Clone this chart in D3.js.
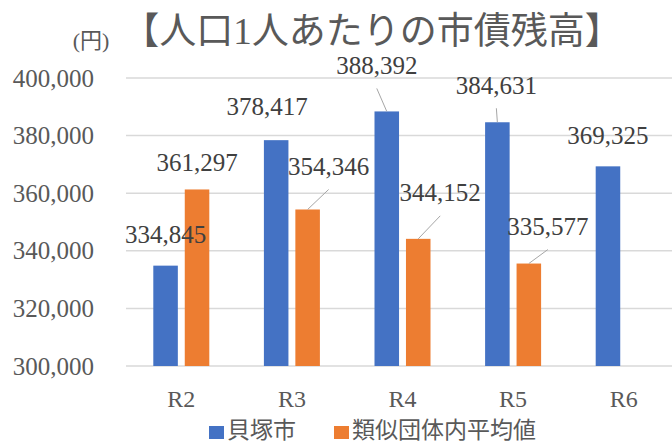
<!DOCTYPE html>
<html>
<head>
<meta charset="utf-8">
<script src="https://cdn.jsdelivr.net/npm/d3@7"></script>
<style>
  body { margin: 0; background: #fff; }
  svg text { font-family: "Liberation Serif", "DejaVu Serif", "Noto Sans CJK JP", serif; }
</style>
</head>
<body>
<svg id="chart" width="672" height="441"></svg>
<script>
// データ
const categories = ["R2", "R3", "R4", "R5", "R6"];
const seriesNames = ["貝塚市", "類似団体内平均値"];
const kaizukaValues = [334845, 378417, 388392, 384631, 369325];
const averageValues = [361297, 354346, 344152, 335577, null];
const yTicks = [300000, 320000, 340000, 360000, 380000, 400000];

// ラベルの手動オフセット（棒の中心・上端からの位置）と引き出し線
const kaizukaLabelOffset = [[0, -31], [-9, -34], [-10, -46], [-1, -37], [0, -31]];
const averageLabelOffset = [[0, -27], [21, -43], [22, -46], [19, -37], [0, 0]];
const kaizukaLeader = [false, false, true, true, false];
const averageLeader = [false, true, true, true, false];

const colors = ["#4472c4", "#ed7d31"];
const width = 672, height = 441;
const margin = { top: 78, right: -7, bottom: 75, left: 126 };

const svg = d3.select("#chart");

const x0 = d3.scaleBand().domain(categories).range([margin.left, width - margin.right]);
const x1 = d3.scaleBand().domain(seriesNames).range([-28, 28]).paddingInner(0.22);
const y = d3.scaleLinear().domain([300000, 400000]).range([height - margin.bottom, margin.top]);
const fmt = d3.format(",");

// グリッド線
svg.append("g").selectAll("line").data(yTicks).enter().append("line")
    .attr("x1", margin.left).attr("x2", width)
    .attr("y1", d => y(d)).attr("y2", d => y(d))
    .attr("stroke", "#d9d9d9").attr("stroke-width", 1.5);

// Y軸ラベル
svg.append("g").selectAll("text").data(yTicks).enter().append("text")
    .attr("x", 94).attr("y", d => y(d))
    .attr("text-anchor", "end").attr("dominant-baseline", "central")
    .style("font-size", "25px").style("fill", "#595959")
    .text(d => fmt(d));

// X軸ラベル
svg.append("g").selectAll("text").data(categories).enter().append("text")
    .attr("x", d => x0(d) + x0.bandwidth() / 2).attr("y", 399)
    .attr("text-anchor", "middle").attr("dominant-baseline", "central")
    .style("font-size", "24px").style("fill", "#595959")
    .text(d => d);

const series = [
    { name: seriesNames[0], values: kaizukaValues, offsets: kaizukaLabelOffset, leaders: kaizukaLeader, color: colors[0] },
    { name: seriesNames[1], values: averageValues, offsets: averageLabelOffset, leaders: averageLeader, color: colors[1] }
];

const barLayer = svg.append("g");
const labelLayer = svg.append("g");

series.forEach(s => {
    const items = categories.map((c, i) => ({ cat: c, value: s.values[i], off: s.offsets[i], leader: s.leaders[i] }))
        .filter(d => d.value != null);
    const cx = d => x0(d.cat) + x0.bandwidth() / 2 + x1(s.name) + x1.bandwidth() / 2;

    barLayer.append("g").selectAll("rect").data(items).enter().append("rect")
        .attr("x", d => cx(d) - x1.bandwidth() / 2)
        .attr("y", d => y(d.value))
        .attr("width", x1.bandwidth())
        .attr("height", d => y(300000) - y(d.value))
        .attr("fill", s.color);

    const g = labelLayer.append("g");
    g.selectAll("line").data(items.filter(d => d.leader)).enter().append("line")
        .attr("x1", d => cx(d) + d.off[0]).attr("y1", d => y(d.value) + d.off[1] + 23)
        .attr("x2", d => cx(d)).attr("y2", d => y(d.value))
        .attr("stroke", "#a6a6a6").attr("stroke-width", 1);

    g.selectAll("text").data(items).enter().append("text")
        .attr("x", d => cx(d) + d.off[0]).attr("y", d => y(d.value) + d.off[1])
        .attr("text-anchor", "middle").attr("dominant-baseline", "central")
        .style("font-size", "25px").style("fill", "#404040")
        .text(d => fmt(d.value));
});

// タイトル
svg.append("text").attr("x", 91).attr("y", 40)
    .attr("text-anchor", "middle").attr("dominant-baseline", "central")
    .style("font-size", "22px").style("fill", "#595959")
    .text("(円)");
svg.append("text").attr("x", 372).attr("y", 31)
    .attr("text-anchor", "middle").attr("dominant-baseline", "central")
    .style("font-size", "37px").style("fill", "#595959")
    .text("【人口1人あたりの市債残高】");

// 凡例
const legendX = [209, 334];
const legend = svg.append("g").selectAll("g").data(seriesNames).enter().append("g")
    .attr("transform", (d, i) => `translate(${legendX[i]},0)`);
legend.append("rect").attr("x", 0).attr("y", 426).attr("width", 15).attr("height", 13)
    .attr("fill", (d, i) => colors[i]);
legend.append("text").attr("x", 18).attr("y", 430)
    .attr("dominant-baseline", "central")
    .style("font-size", "23px").style("fill", "#595959")
    .text(d => d);
</script>
</body>
</html>
